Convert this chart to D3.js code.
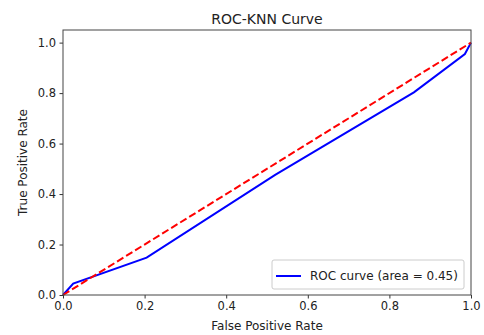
<!DOCTYPE html>
<html>
<head>
<meta charset="utf-8">
<script src="https://cdn.jsdelivr.net/npm/d3@7"></script>
<style>
  body { margin: 0; background: #fff; }
  svg { display: block; font-family: "DejaVu Sans", sans-serif; }
</style>
</head>
<body>
<svg id="chart" width="484" height="335"></svg>
<script>
// ROC points
const fpr = [0, 0.025, 0.205, 0.52, 0.86, 0.985, 1];
const tpr = [0, 0.045, 0.148, 0.476, 0.803, 0.955, 1];
const diagX = [0, 1];
const diagY = [0, 1];
const xTicks = [0, 0.2, 0.4, 0.6, 0.8, 1.0];
const yTicks = [0, 0.2, 0.4, 0.6, 0.8, 1.0];
const legendLabel = "ROC curve (area = 0.45)";

const margin = { top: 30, right: 13, bottom: 40, left: 63 };
const width = 484, height = 335;

const svg = d3.select("#chart");

const x = d3.scaleLinear().domain([0, 1]).range([margin.left, width - margin.right]);
const y = d3.scaleLinear().domain([0, 1.05]).range([height - margin.bottom, margin.top]);

// curves
const line = d3.line().x(d => x(d[0])).y(d => y(d[1]));

svg.append("path")
    .datum(d3.zip(fpr, tpr))
    .attr("fill", "none")
    .attr("stroke", "#0000ff")
    .attr("stroke-width", 2)
    .attr("d", line);

svg.append("path")
    .datum(d3.zip(diagX, diagY))
    .attr("fill", "none")
    .attr("stroke", "#ff0000")
    .attr("stroke-width", 2)
    .attr("stroke-dasharray", "7.4,3.2")
    .attr("d", line);

// axes
const xAxis = svg.append("g")
    .attr("transform", `translate(0,${height - margin.bottom})`)
    .call(d3.axisBottom(x).tickValues(xTicks).tickFormat(d3.format(".1f")).tickSize(3.5).tickPadding(3));
const yAxis = svg.append("g")
    .attr("transform", `translate(${margin.left},0)`)
    .call(d3.axisLeft(y).tickValues(yTicks).tickFormat(d3.format(".1f")).tickSize(3.5).tickPadding(3.5));

[xAxis, yAxis].forEach(g => {
    g.select(".domain").remove();
    g.selectAll(".tick line").attr("stroke", "#333");
    g.selectAll(".tick text").attr("fill", "#222").attr("font-size", 11.5).attr("font-family", "DejaVu Sans, sans-serif");
});

// frame
svg.append("rect")
    .attr("x", margin.left)
    .attr("y", margin.top)
    .attr("width", width - margin.left - margin.right)
    .attr("height", height - margin.top - margin.bottom)
    .attr("fill", "none")
    .attr("stroke", "#444")
    .attr("stroke-width", 1);

// titles
svg.append("text")
    .attr("x", (margin.left + width - margin.right) / 2)
    .attr("y", 24)
    .attr("text-anchor", "middle")
    .attr("font-size", 14)
    .attr("fill", "#222")
    .text("ROC-KNN Curve");

svg.append("text")
    .attr("x", (margin.left + width - margin.right) / 2)
    .attr("y", 330)
    .attr("text-anchor", "middle")
    .attr("font-size", 12)
    .attr("fill", "#222")
    .text("False Positive Rate");

svg.append("text")
    .attr("transform", `translate(27,${(margin.top + height - margin.bottom) / 2}) rotate(-90)`)
    .attr("text-anchor", "middle")
    .attr("font-size", 12)
    .attr("fill", "#222")
    .text("True Positive Rate");

// legend
const lg = svg.append("g").attr("transform", "translate(272,260)");
lg.append("rect")
    .attr("width", 192).attr("height", 29).attr("rx", 2)
    .attr("fill", "#fff").attr("fill-opacity", 0.8)
    .attr("stroke", "#ccc");
lg.append("line")
    .attr("x1", 4).attr("x2", 29).attr("y1", 16).attr("y2", 16)
    .attr("stroke", "#0000ff").attr("stroke-width", 2);
lg.append("text")
    .attr("x", 38).attr("y", 20)
    .attr("font-size", 12)
    .attr("fill", "#222")
    .text(legendLabel);
</script>
</body>
</html>
